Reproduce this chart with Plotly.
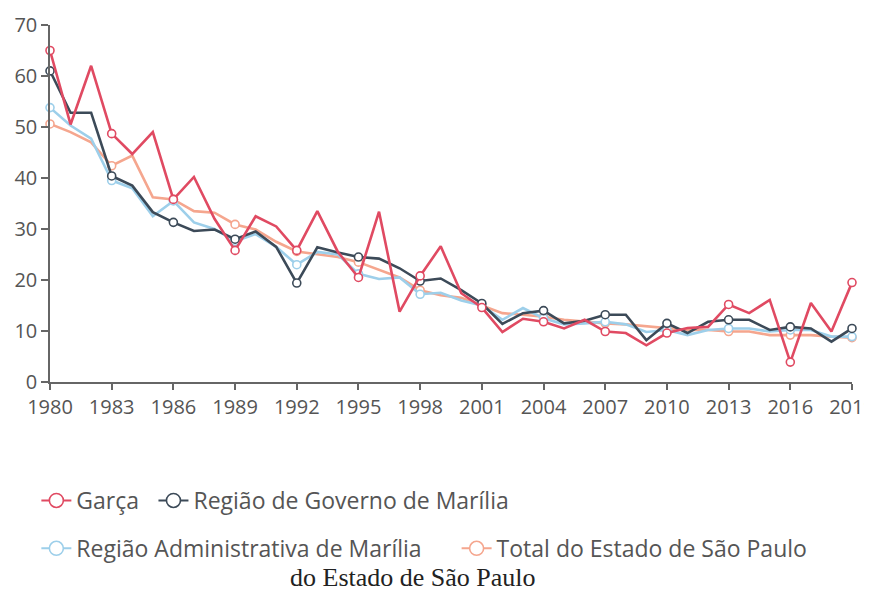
import plotly.graph_objects as go

years = list(range(1980, 2020))
tick_years = list(range(1980, 2020, 3))
y_ticks = [0, 10, 20, 30, 40, 50, 60, 70]

garca = [65, 50.5, 62, 48.7, 44.7, 49, 35.8, 40.2, 32, 25.8,
         32.5, 30.5, 25.8, 33.5, 25.5, 20.5, 33.4, 13.8, 20.8, 26.6,
         17.4, 14.6, 9.8, 12.4, 11.8, 10.5, 12.2, 9.9, 9.6, 7.2,
         9.6, 10.6, 10.8, 15.2, 13.5, 16.1, 3.9, 15.5, 9.9, 19.5]
governo = [61, 52.8, 52.8, 40.4, 38.5, 33.3, 31.3, 29.6, 29.9, 28,
           29.5, 26.5, 19.4, 26.4, 25.4, 24.5, 24.2, 22.3, 19.8, 20.3,
           18, 15.4, 11.4, 13.5, 14, 11.5, 12, 13.2, 13.2, 8.2,
           11.5, 9.6, 11.8, 12.2, 12.2, 10.2, 10.8, 10.5, 7.9, 10.5]
administrativa = [53.8, 50.3, 47.7, 39.5, 38, 32.5, 35.5, 31.3, 30, 27.6,
                  29, 26.5, 23, 25.5, 25, 21.2, 20.2, 20.5, 17.2, 17.5,
                  16, 15, 12.2, 14.5, 12.5, 11.3, 11.5, 11.8, 11.3, 9.8,
                  10.2, 9.2, 10.2, 10.5, 10.5, 9.9, 10.2, 10.2, 8.9, 8.9]
total_sp = [50.6, 49, 47, 42.4, 44.4, 36.2, 35.8, 33.5, 33.2, 30.9,
            29.9, 27.5, 25.6, 25, 24.5, 23.5, 22, 20.5, 18, 17,
            16.5, 15, 13.5, 13.2, 12.8, 12.2, 11.8, 11.5, 11.3, 10.9,
            10.5, 10.2, 10.2, 9.9, 9.9, 9.2, 9.2, 9.2, 8.9, 8.7]

names = ["Garça", "Região de Governo de Marília",
         "Região Administrativa de Marília", "Total do Estado de São Paulo"]
series = [garca, governo, administrativa, total_sp]
colors = ["#e04a62", "#3c4a58", "#9dcfea", "#f5a68e"]
legend_ids = ["legend", "legend2", "legend3", "legend4"]
legend_pos = [(-0.017, -0.332), (0.129, -0.332), (-0.017, -0.466), (0.507, -0.466)]

fig = go.Figure()

# draw lines (red last, on top)
for idx in [3, 2, 1, 0]:
    vals = series[idx]
    fig.add_trace(go.Scatter(
        x=years, y=vals, mode="lines", showlegend=False,
        line=dict(color=colors[idx], width=2.6), cliponaxis=False,
        hoverinfo="skip"))
    mx = [y for y in years if y in tick_years]
    my = [v for y, v in zip(years, vals) if y in tick_years]
    fig.add_trace(go.Scatter(
        x=mx, y=my, mode="markers", showlegend=False, cliponaxis=False,
        marker=dict(size=8, color="white", line=dict(color=colors[idx], width=1.6))))

# legend entries
for idx in range(4):
    fig.add_trace(go.Scatter(
        x=[None], y=[None], mode="lines+markers", name=names[idx],
        legend=legend_ids[idx],
        line=dict(color=colors[idx], width=2),
        marker=dict(size=14, color="white", line=dict(color=colors[idx], width=1.6))))

axis_color = "#666666"
font_main = "Open Sans, Noto Sans, sans-serif"

legend_layouts = {}
for lid, (lx, ly) in zip(legend_ids, legend_pos):
    legend_layouts[lid] = dict(orientation="h", x=lx, xanchor="left", y=ly, yanchor="middle",
                               font=dict(size=23, color="#555555"),
                               bgcolor="rgba(0,0,0,0)", itemwidth=30)

fig.update_layout(
    width=864, height=586,
    margin=dict(l=42, r=20, t=17, b=212, autoexpand=False),
    paper_bgcolor="white", plot_bgcolor="white",
    font=dict(family=font_main, size=20, color="#555555"),
    xaxis=dict(range=[1980, 2019], tickmode="array", tickvals=tick_years,
               ticktext=[str(y) for y in tick_years],
               showgrid=False, zeroline=False, showline=True,
               linecolor=axis_color, linewidth=1.5, ticks="outside",
               ticklen=6, tickcolor=axis_color, tickwidth=1.5,
               ticklabeloverflow="allow", automargin=False,
               tickfont=dict(size=20, color="#555555")),
    yaxis=dict(range=[0, 70], tickmode="array", tickvals=y_ticks,
               showgrid=False, zeroline=False, showline=True,
               linecolor=axis_color, linewidth=1.5, ticks="outside",
               ticklen=7, tickcolor=axis_color, tickwidth=1.5,
               automargin=False,
               tickfont=dict(size=20, color="#555555")),
    annotations=[dict(text="do Estado de São Paulo", xref="paper", yref="paper",
                      x=0.453, y=-0.547, xanchor="center", yanchor="middle",
                      showarrow=False,
                      font=dict(family="Liberation Serif, serif", size=26, color="#222222"))],
    showlegend=True,
    **legend_layouts,
)

fig.write_html("out.html")
